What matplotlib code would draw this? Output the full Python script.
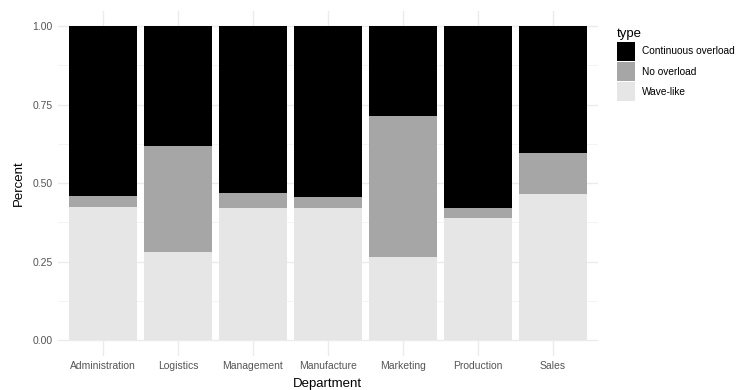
import matplotlib
matplotlib.use("Agg")
import matplotlib.pyplot as plt
import numpy as np
from matplotlib.patches import Patch

plt.rcParams['font.family'] = ['Liberation Sans', 'DejaVu Sans']

departments = ["Administration", "Logistics", "Management", "Manufacture",
               "Marketing", "Production", "Sales"]
wave_like = [0.425, 0.280, 0.420, 0.420, 0.265, 0.389, 0.464]
no_overload = [0.035, 0.339, 0.050, 0.035, 0.449, 0.031, 0.131]
continuous = [1 - w - n for w, n in zip(wave_like, no_overload)]

types = ["Continuous overload", "No overload", "Wave-like"]
colours = ["#000000", "#a6a6a6", "#e6e6e6"]

fig = plt.figure(figsize=(7.5, 3.9), dpi=100, facecolor="white")
ax = fig.add_axes([0.0773, 0.088, 0.7197, 0.885])

x = np.arange(len(departments))
ax.bar(x, wave_like, width=0.9, color=colours[2], zorder=2)
ax.bar(x, no_overload, width=0.9, bottom=wave_like, color=colours[1], zorder=2)
bottom2 = [w + n for w, n in zip(wave_like, no_overload)]
ax.bar(x, continuous, width=0.9, bottom=bottom2, color=colours[0], zorder=2)

ax.set_xlim(-0.6, len(departments) - 0.4)
ax.set_ylim(-0.05, 1.05)
ax.set_xticks(x)
ax.set_xticklabels(departments)
ax.set_yticks([0, 0.25, 0.5, 0.75, 1.0])
ax.set_yticklabels(["0.00", "0.25", "0.50", "0.75", "1.00"])
ax.set_yticks([0.125, 0.375, 0.625, 0.875], minor=True)

ax.grid(True, which="major", color="#ebebeb", linewidth=1.0, zorder=0)
ax.grid(True, which="minor", axis="y", color="#f2f2f2", linewidth=0.6, zorder=0)
for s in ax.spines.values():
    s.set_visible(False)
ax.tick_params(which="both", length=0, labelsize=7.5, labelcolor="#555555", pad=4)

ax.set_xlabel("Department", fontsize=9.5, color="black", labelpad=5)
ax.set_ylabel("Percent", fontsize=9.5, color="black", labelpad=5)

handles = [Patch(facecolor=c, edgecolor="none") for c in colours]
leg = fig.legend(handles, types, title="type", loc="upper left",
                 bbox_to_anchor=(0.823, 0.927), frameon=False,
                 fontsize=7.3, title_fontsize=9.5, handlelength=1.75,
                 handleheight=2.45, labelspacing=0.15, handletextpad=0.65,
                 borderaxespad=0, borderpad=0)
leg._legend_box.align = "left"

fig.savefig("out.png", dpi=100, facecolor="white")
